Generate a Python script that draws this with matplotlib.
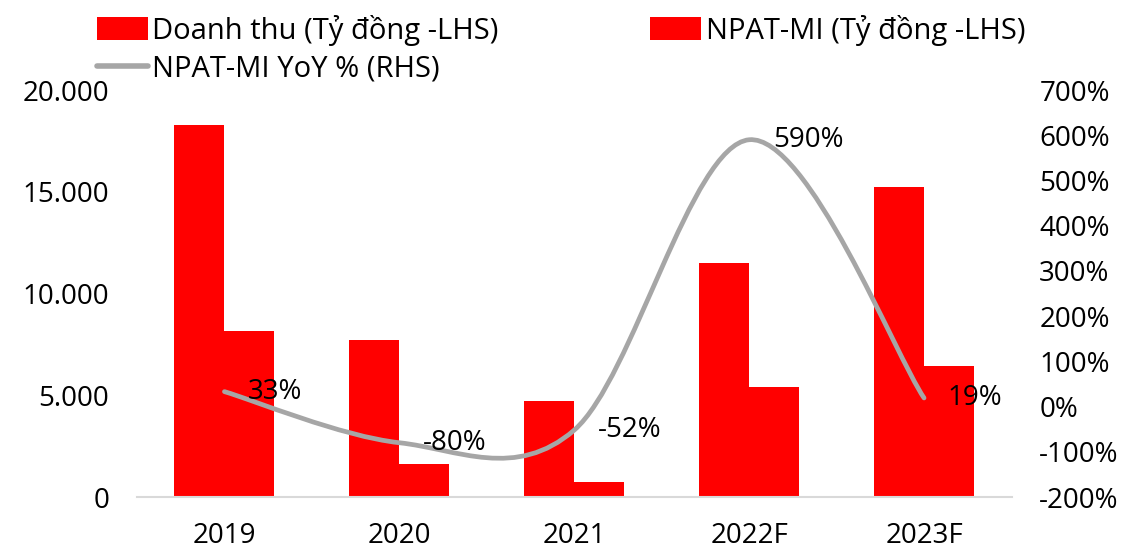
import matplotlib
matplotlib.use("Agg")
import matplotlib.pyplot as plt
from matplotlib.path import Path
from matplotlib.patches import PathPatch, Patch
from matplotlib.lines import Line2D
from matplotlib.ticker import FuncFormatter, MultipleLocator
from matplotlib import font_manager
import numpy as np

# ---- data ----
years = ["2019", "2020", "2021", "2022F", "2023F"]
revenue = [18300, 7720, 4720, 11480, 15250]       # Doanh thu (tỷ đồng)
npat_mi = [8180, 1610, 740, 5420, 6450]           # NPAT-MI (tỷ đồng)
npat_yoy = [33, -80, -52, 590, 19]                # NPAT-MI YoY (%)

label_rev = "Doanh thu (Tỷ đồng -LHS)"
label_npat = "NPAT-MI (Tỷ đồng -LHS)"
label_yoy = "NPAT-MI YoY % (RHS)"

RED = "#FF0000"
GREY = "#A6A6A6"

installed = {f.name for f in font_manager.fontManager.ttflist}
base_font = "Open Sans" if "Open Sans" in installed else "DejaVu Sans"
legend_font = "Liberation Sans Narrow" if "Liberation Sans Narrow" in installed else base_font
plt.rcParams["font.family"] = [base_font, "DejaVu Sans"]

W, H = 1130, 551
fig = plt.figure(figsize=(W / 100, H / 100), dpi=100)
ax = fig.add_axes([137 / W, 1 - 497 / H, (1011.5 - 137) / W, (497 - 90) / H])
ax2 = ax.twinx()

x = np.arange(len(years))
bw = 50 / 175
ax.bar(x - bw / 2, revenue, width=bw, color=RED, zorder=2)
ax.bar(x + bw / 2, npat_mi, width=bw, color=RED, zorder=2)

ax.set_xlim(-0.5, len(years) - 0.5)
ax.set_ylim(0, 20000)
ax.yaxis.set_major_locator(MultipleLocator(5000))
ax.yaxis.set_major_formatter(FuncFormatter(lambda v, p: f"{int(v):,}".replace(",", ".")))
ax.set_xticks(x)
ax.set_xticklabels(years)

ax2.set_ylim(-200, 700)
ax2.yaxis.set_major_locator(MultipleLocator(100))
ax2.yaxis.set_major_formatter(FuncFormatter(lambda v, p: f"{int(v)}%"))

for a in (ax, ax2):
    for s in a.spines.values():
        s.set_visible(False)
    a.tick_params(length=0, labelsize=20, labelcolor="black")
ax.spines["bottom"].set_visible(True)
ax.spines["bottom"].set_color("#D9D9D9")
ax.spines["bottom"].set_linewidth(1.5)
ax.tick_params(axis="y", pad=20)
ax.tick_params(axis="x", pad=18)
ax2.tick_params(axis="y", pad=20)

# smoothed YoY line (cubic Bezier segments through each point)
pts = np.column_stack([x, npat_yoy]).astype(float)
n = len(pts)
verts = [pts[0]]
codes = [Path.MOVETO]
for i in range(n - 1):
    p_prev = pts[i - 1] if i > 0 else pts[i]
    p_next2 = pts[i + 2] if i + 2 < n else pts[i + 1]
    c1 = pts[i] + (pts[i + 1] - p_prev) / 6
    c2 = pts[i + 1] - (p_next2 - pts[i]) / 6
    verts += [c1, c2, pts[i + 1]]
    codes += [Path.CURVE4] * 3
curve = PathPatch(Path(verts, codes), facecolor="none", edgecolor=GREY,
                  linewidth=3.4, capstyle="round", joinstyle="round", zorder=3)
ax2.add_patch(curve)

for xi, v in zip(x, npat_yoy):
    ax2.annotate(f"{v}%", (xi, v), xytext=(17, 0), textcoords="offset points",
                 ha="left", va="center", fontsize=20, color="black", zorder=4)

handles = [Patch(facecolor=RED, label=label_rev),
           Line2D([], [], color=GREY, linewidth=4, solid_capstyle="round", label=label_yoy),
           Patch(facecolor=RED, label=label_npat)]
fig.legend(handles=handles, ncol=2, loc="upper left", bbox_to_anchor=(85 / W, 1 - 3 / H),
           frameon=False, prop={"family": legend_font, "size": 21},
           handlelength=1.75, handleheight=0.85, handletextpad=0.15,
           columnspacing=5.2, labelspacing=0.3, borderaxespad=0)

fig.savefig("out.png", dpi=100, facecolor="white")
